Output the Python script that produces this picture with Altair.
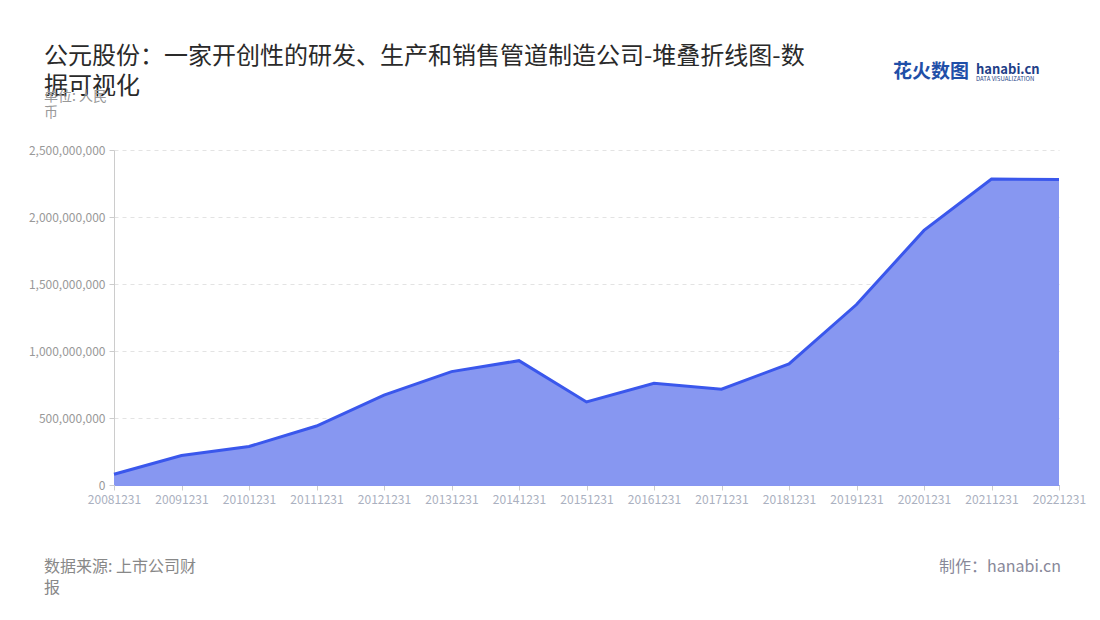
import altair as alt
import pandas as pd

dates = ["20081231", "20091231", "20101231", "20111231", "20121231", "20131231",
         "20141231", "20151231", "20161231", "20171231", "20181231", "20191231",
         "20201231", "20211231", "20221231"]
values = [80e6, 220e6, 287e6, 440e6, 671e6, 846e6,
          928e6, 620e6, 759e6, 715e6, 904e6, 1347e6,
          1900e6, 2284e6, 2279e6]
y_ticks = [0, 500e6, 1000e6, 1500e6, 2000e6, 2500e6]

title_lines = "公元股份：一家开创性的研发、生产和销售管道制造公司-堆叠折线图-数\n据可视化"
unit_text = "单位: 人民\n币"
source_text = "数据来源: 上市公司财\n报"
maker_text = "制作：hanabi.cn"

FONT = "Noto Sans CJK SC"

df = pd.DataFrame({"date": dates, "value": values})

x_enc = alt.X("date:O", sort=None, title=None,
              scale=alt.Scale(type="point", padding=0),
              axis=alt.Axis(labelAngle=0, labelColor="#aab0c0", labelFontSize=12,
                            domainColor="#8796F0", tickColor="#cccccc", tickSize=5,
                            labelPadding=4, grid=False, labelFont=FONT))
y_enc = alt.Y("value:Q", title=None,
              scale=alt.Scale(domain=[0, 2500e6], nice=False),
              axis=alt.Axis(values=y_ticks, format=",d", labelColor="#999999",
                            labelFontSize=12, domainColor="#cccccc", tickColor="#cccccc",
                            tickSize=5, gridDash=[4, 4], gridColor="#e3e3e3",
                            labelPadding=4, labelFont=FONT))

area = alt.Chart(df).mark_area(color="#8797F1", opacity=1).encode(x=x_enc, y=y_enc)
line = alt.Chart(df).mark_line(color="#3A57EC", strokeWidth=3).encode(x=x_enc, y=y_enc)

def txt(text, x, y, size, color, align="left", weight="normal", lh=None):
    kw = dict(align=align, baseline="middle", fontSize=size, color=color,
              font=FONT, fontWeight=weight, lineBreak="\n")
    if lh:
        kw["lineHeight"] = lh
    return alt.Chart(pd.DataFrame({"t": [text]})).mark_text(**kw).encode(
        text="t:N", x=alt.value(x), y=alt.value(y))

title = txt(title_lines, -70, -93, 24, "#2a2a2a", lh=30)
unit = txt(unit_text, -70, -53, 14, "#999999", lh=16)
source = txt(source_text, -70, 417, 16, "#888888", lh=21)
maker = txt(maker_text, 947, 417, 16, "#888899", align="right")
logo1 = txt("花火数图", 779, -78, 19, "#1f4fa8", weight="bold")
logo2 = txt("hanabi.cn", 862, -80, 13, "#1f3f88", weight="bold")
logo3 = txt("DATA VISUALIZATION", 862, -71, 6, "#1f3f88")

chart = alt.layer(area, line, title, unit, source, maker, logo1, logo2, logo3).properties(
    width=945, height=335,
    autosize=alt.AutoSizeParams(type="none"),
    padding={"left": 106, "top": 142, "right": 30, "bottom": 120},
    background="white",
).configure_view(stroke=None).configure_axis(labelFont=FONT)

chart.save("out.html", embed_options={"renderer": "svg", "actions": False})
